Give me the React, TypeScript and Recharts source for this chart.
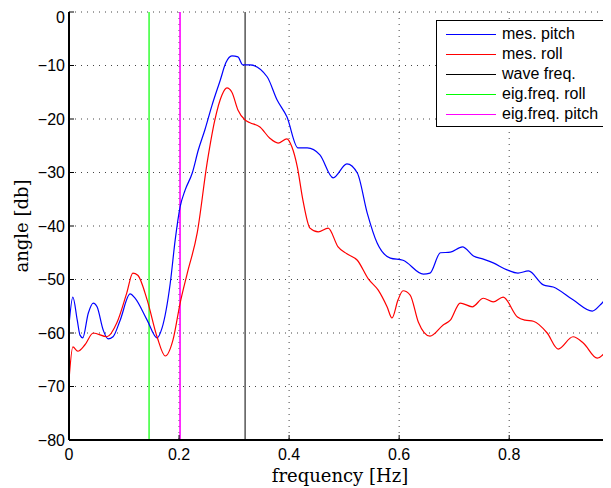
import React from "react"
import { LineChart, Line, XAxis, YAxis, CartesianGrid, ReferenceLine, Legend } from "recharts"

// measured pitch response
const pitchFreq = [
  0, 0.007, 0.015, 0.02, 0.025, 0.035, 0.044, 0.051, 0.062, 0.071, 0.08, 0.093, 0.111, 0.12, 0.142, 0.16,
  0.169, 0.184, 0.193, 0.202, 0.211, 0.224, 0.235, 0.247, 0.26, 0.275, 0.285, 0.296, 0.307, 0.316, 0.329,
  0.36, 0.378, 0.396, 0.416, 0.433, 0.456, 0.48, 0.505, 0.524, 0.542, 0.56, 0.584, 0.607, 0.644, 0.656,
  0.675, 0.693, 0.715, 0.735, 0.753, 0.771, 0.796, 0.816, 0.835, 0.862, 0.88, 0.916, 0.951, 0.965, 0.985,
]
const pitchDb = [
  -58.5, -53.3, -57.6, -60.4, -60.9, -56.3, -54.4, -55.1, -59.4, -61.1, -60.7, -57.6, -52.7, -53.5, -57.6, -60.9,
  -59.1, -50.7, -42.6, -36.4, -33.3, -30.1, -25.8, -22, -17.4, -12.7, -9.5, -8.2, -8.4, -9.9, -9.9,
  -12.1, -16.4, -19.6, -25.4, -25.4, -26.7, -31.0, -28.4, -30.1, -37.6, -43.2, -46.0, -46.4, -49.0, -48.8,
  -45.0, -44.9, -43.9, -45.6, -46.2, -46.9, -48.2, -48.8, -48.4, -51.0, -51.4, -53.8, -55.9, -54.8, -52.3,
]

// measured roll response
const rollFreq = [
  0, 0.007, 0.016, 0.029, 0.044, 0.069, 0.087, 0.105, 0.116, 0.125, 0.142, 0.16, 0.175, 0.189, 0.202,
  0.215, 0.233, 0.251, 0.265, 0.278, 0.287, 0.296, 0.307, 0.32, 0.329, 0.347, 0.365, 0.38, 0.396, 0.405,
  0.415, 0.425, 0.438, 0.453, 0.471, 0.489, 0.505, 0.524, 0.544, 0.562, 0.578, 0.587, 0.598, 0.607, 0.62,
  0.635, 0.656, 0.68, 0.693, 0.711, 0.733, 0.753, 0.771, 0.789, 0.815, 0.829, 0.844, 0.869, 0.889, 0.916,
  0.935, 0.96, 0.985,
]
const rollDb = [
  -68.8, -62.6, -63.4, -62.2, -60.0, -60.7, -58.1, -52.5, -48.8, -49.2, -53.8, -60.7, -64.3, -61.3, -54.4,
  -48.8, -41.3, -28.2, -20.2, -15.5, -14.2, -15, -18.3, -20.2, -20.7, -21.5, -23.6, -24.5, -23.7, -25.2,
  -29.0, -35.1, -40.4, -41.1, -40.4, -43.9, -45.2, -46.4, -49.9, -52.0, -55.1, -57.2, -53.8, -52.1, -52.9,
  -58.0, -60.6, -58.5, -57.6, -54.4, -55.1, -53.5, -54.2, -53.3, -57.0, -57.6, -57.8, -60.0, -63.0, -60.7,
  -61.9, -64.7, -61.9,
]

const waveFreq = 0.32
const eigRoll = 0.1455
const eigPitch = 0.2018

const xTicks = [0, 0.2, 0.4, 0.6, 0.8]
const yTicks = [-80, -70, -60, -50, -40, -30, -20, -10, 0]

const legendItems = [
  { name: "mes. pitch", color: "#0000ff" },
  { name: "mes. roll", color: "#ff0000" },
  { name: "wave freq.", color: "#000000" },
  { name: "eig.freq. roll", color: "#00ff00" },
  { name: "eig.freq. pitch", color: "#ff00ff" },
]

const pitchData = pitchFreq.map((f, i) => ({ f, db: pitchDb[i] }))
const rollData = rollFreq.map((f, i) => ({ f, db: rollDb[i] }))

const sans = "'Liberation Sans', Arial, Helvetica, sans-serif"
const serif = "'DejaVu Serif', 'Liberation Serif', serif"

const fmtY = (v: number) => (v < 0 ? "\u2212" + Math.abs(v) : String(v))

const LegendBox = () => (
  <div
    style={{
      width: 169,
      height: 107,
      boxSizing: "border-box",
      border: "1.5px solid #000",
      background: "#fff",
      fontFamily: sans,
      fontSize: 16,
      paddingTop: 3,
    }}
  >
    {legendItems.map((it) => (
      <div key={it.name} style={{ display: "flex", alignItems: "center", height: 20 }}>
        <div style={{ width: 50, height: 0, borderTop: `1px solid ${it.color}`, marginLeft: 9, marginRight: 6 }} />
        <span style={{ lineHeight: "20px" }}>{it.name}</span>
      </div>
    ))}
  </div>
)

const YLabel = (props: any) => {
  const vb = props.viewBox || { x: 0, y: 0, height: 428 }
  const x = vb.x + 20
  const y = vb.y + vb.height / 2
  return (
    <text
      x={x}
      y={y}
      transform={`rotate(-90 ${x} ${y})`}
      textAnchor="middle"
      fontFamily={serif}
      fontSize={18}
      fill="#000"
    >
      angle [db]
    </text>
  )
}

export default function App() {
  return (
    <div style={{ width: 603, height: 480 }}>
      <LineChart width={603} height={480} margin={{ top: 4, right: 0, bottom: 0, left: 0 }}>
        <CartesianGrid stroke="#444" strokeDasharray="1 5" strokeWidth={1} />
        <XAxis
          dataKey="f"
          type="number"
          domain={[0, 0.985]}
          ticks={xTicks}
          allowDataOverflow
          height={48}
          axisLine={{ stroke: "#000", strokeWidth: 2 }}
          tickLine={{ stroke: "#000" }}
          tickSize={-5}
          tickMargin={14}
          tick={{ fill: "#000", fontFamily: sans, fontSize: 16 }}
          label={{
            value: "frequency [Hz]",
            position: "insideBottom",
            offset: 6,
            fill: "#000",
            fontFamily: serif,
            fontSize: 18,
          }}
        />
        <XAxis
          xAxisId="top"
          orientation="top"
          dataKey="f"
          type="number"
          domain={[0, 0.985]}
          ticks={xTicks}
          height={0}
          axisLine={{ stroke: "#000", strokeWidth: 1 }}
          tickLine={{ stroke: "#000" }}
          tickSize={-5}
          tickFormatter={() => ""}
        />
        <YAxis
          type="number"
          domain={[-80, 0]}
          ticks={yTicks}
          width={61}
          axisLine={{ stroke: "#000", strokeWidth: 2 }}
          tickLine={{ stroke: "#000" }}
          tickSize={-5}
          tickMargin={9}
          tickFormatter={fmtY}
          tick={{ fill: "#000", fontFamily: sans, fontSize: 16 }}
          label={<YLabel />}
        />
        <ReferenceLine x={eigRoll} stroke="#00ff00" strokeWidth={1.2} />
        <ReferenceLine x={eigPitch} stroke="#ff00ff" strokeWidth={1.6} />
        <ReferenceLine x={waveFreq} stroke="#000" strokeWidth={1} />
        <Line
          data={pitchData}
          dataKey="db"
          type="monotone"
          stroke="#0000ff"
          strokeWidth={1.2}
          dot={false}
          isAnimationActive={false}
        />
        <Line
          data={rollData}
          dataKey="db"
          type="monotone"
          stroke="#ff0000"
          strokeWidth={1.2}
          dot={false}
          isAnimationActive={false}
        />
        <Legend
          layout="vertical"
          align="center"
          verticalAlign="middle"
          wrapperStyle={{ top: 12, left: 428, width: 169, height: 107 }}
          content={() => <LegendBox />}
        />
      </LineChart>
    </div>
  )
}
